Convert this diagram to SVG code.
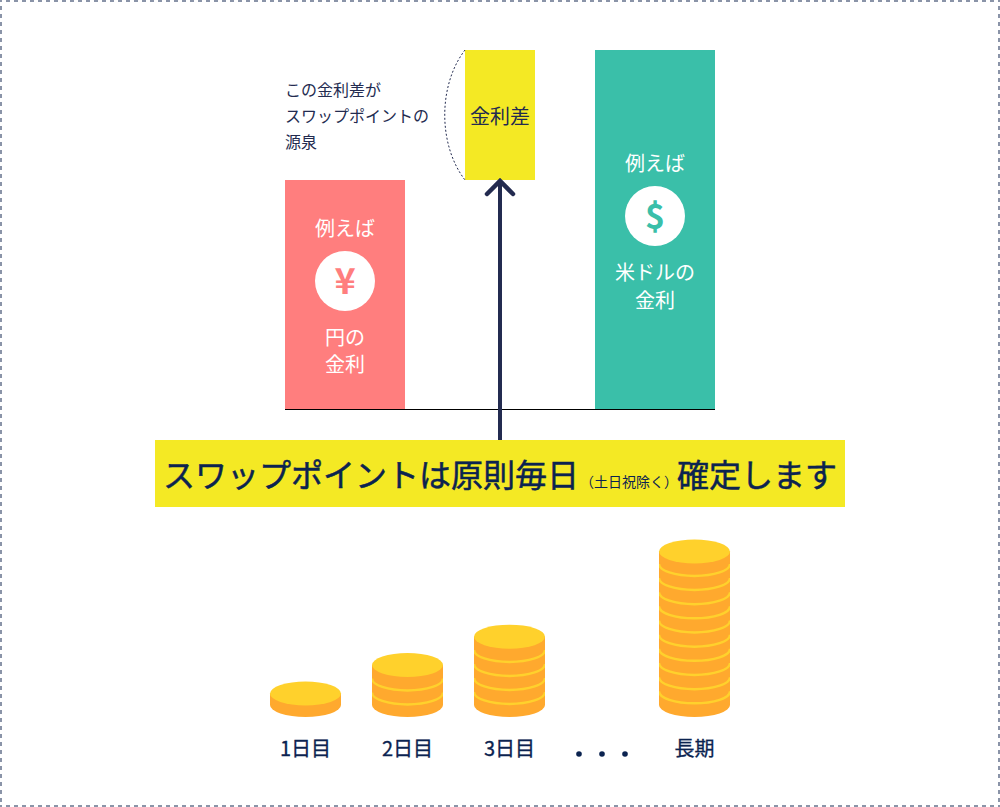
<svg xmlns="http://www.w3.org/2000/svg" xmlns:xlink="http://www.w3.org/1999/xlink" width="1000" height="807" viewBox="0 0 1000 807">
<style>
text{font-family:"Noto Sans CJK JP","Noto Sans",sans-serif}
.w{fill:#fff;font-size:20px;text-anchor:middle}
.n{fill:#232b50;font-size:16px}
.m{fill:#0b2350;stroke:#0b2350;stroke-width:.5px;font-size:32px}
.l{fill:#0b2350;stroke:#0b2350;stroke-width:.3px;font-size:20px;text-anchor:middle}
.side{fill:#ffa92e}
.top{fill:#ffd12c}
.band{fill:none;stroke:#ffd12c;stroke-width:2.400}
.bd{stroke:#8a94a8;stroke-width:2;stroke-dasharray:4 4}
</style>
<defs>
<path id="coin" class="side" d="M270 693.500V705A35.500 12 0 0 0 341 705V693.500Z"/>
<clipPath id="c2"><rect x="372" y="640" width="71" height="80"/></clipPath>
<clipPath id="c3"><rect x="474" y="620" width="71" height="100"/></clipPath>
<clipPath id="c4"><rect x="659" y="535" width="71" height="185"/></clipPath>
</defs>
<rect width="1000" height="807" fill="#fff"/>
<g id="border" class="bd">
<line x1="-2" y1="1" x2="1000" y2="1"/>
<line x1="-2" y1="806" x2="1000" y2="806"/>
<line x1="1" y1="-2" x2="1" y2="807"/>
<line x1="999" y1="-2" x2="999" y2="807"/>
</g>
<g id="yen-bar">
<rect x="285" y="180" width="120" height="229" fill="#ff7e7e"/>
<text class="w" x="345" y="236">例えば</text>
<circle cx="345" cy="281" r="30" fill="#fff"/>
<text x="345" y="294" font-size="36" font-weight="700" fill="#ff7e7e" text-anchor="middle">¥</text>
<text class="w" x="345" y="345">円の</text>
<text class="w" x="345" y="372">金利</text>
</g>
<g id="diff-bar">
<rect x="465" y="50" width="70" height="130" fill="#f4e924"/>
<text x="500" y="124" font-size="20" fill="#232b50" text-anchor="middle">金利差</text>
</g>
<g id="usd-bar">
<rect x="595" y="50" width="120" height="359" fill="#3abfa9"/>
<text class="w" x="655" y="171">例えば</text>
<circle cx="655" cy="216" r="30" fill="#fff"/>
<text x="655" y="229" font-size="34" font-weight="700" fill="#3abfa9" text-anchor="middle">$</text>
<text class="w" x="655" y="280">米ドルの</text>
<text class="w" x="655" y="308">金利</text>
</g>
<g id="note">
<text class="n" x="285" y="95.500">この金利差が</text>
<text class="n" x="285" y="122">スワップポイントの</text>
<text class="n" x="285" y="148">源泉</text>
</g>
<g id="connectors" fill="none">
<line x1="285" y1="409.500" x2="715" y2="409.500" stroke="#000" stroke-width="1"/>
<path d="M465 50C438 85 438 145 465 180" stroke="#232b50" stroke-width="1" stroke-dasharray="2 2"/>
<path d="M500 440V182" stroke="#232b50" stroke-width="4"/>
<path d="M487 194L500 181L513 194" stroke="#232b50" stroke-width="4.500" stroke-linecap="round"/>
</g>
<g id="banner">
<rect x="155" y="440" width="690" height="67" fill="#f4e924"/>
<text class="m" x="163" y="487">スワップポイントは原則毎日</text>
<text x="580" y="487" font-size="14" fill="#0b2350">（土日祝除く）</text>
<text class="m" x="677" y="487">確定します</text>
</g>
<g id="stack-1">
<use xlink:href="#coin" href="#coin"/>
<ellipse class="top" cx="305.500" cy="693.500" rx="35.500" ry="12"/>
</g>
<g id="stack-2">
<path class="side" d="M372 665V705A35.500 12 0 0 0 443 705V665Z"/>
<path class="band" clip-path="url(#c2)" d="M372 678.500A35.500 12 0 0 0 443 678.500M372 692.500A35.500 12 0 0 0 443 692.500"/>
<ellipse class="top" cx="407.500" cy="665" rx="35.500" ry="12"/>
</g>
<g id="stack-3">
<path class="side" d="M474 636.700V705A35.500 12 0 0 0 545 705V636.700Z"/>
<path class="band" clip-path="url(#c3)" d="M474 650A35.500 12 0 0 0 545 650M474 664A35.500 12 0 0 0 545 664M474 678A35.500 12 0 0 0 545 678M474 692A35.500 12 0 0 0 545 692"/>
<ellipse class="top" cx="509.500" cy="636.700" rx="35.500" ry="12"/>
</g>
<g id="stack-long">
<path class="side" d="M659 551.500V705A35.500 12 0 0 0 730 705V551.500Z"/>
<path class="band" clip-path="url(#c4)" d="M659 564A35.500 12 0 0 0 730 564M659 578A35.500 12 0 0 0 730 578M659 592.200A35.500 12 0 0 0 730 592.200M659 606.300A35.500 12 0 0 0 730 606.300M659 620.500A35.500 12 0 0 0 730 620.500M659 634.700A35.500 12 0 0 0 730 634.700M659 648.800A35.500 12 0 0 0 730 648.800M659 663A35.500 12 0 0 0 730 663M659 677.200A35.500 12 0 0 0 730 677.200M659 691.300A35.500 12 0 0 0 730 691.300"/>
<ellipse class="top" cx="694.500" cy="551.500" rx="35.500" ry="12"/>
</g>
<g id="labels">
<text class="l" x="305.500" y="756">1日目</text>
<text class="l" x="407.500" y="756">2日目</text>
<text class="l" x="509.500" y="756">3日目</text>
<text class="l" x="694.500" y="756">長期</text>
<circle cx="579" cy="754" r="2.800" fill="#0b2350"/>
<circle cx="602" cy="754" r="2.800" fill="#0b2350"/>
<circle cx="625" cy="754" r="2.800" fill="#0b2350"/>
</g>
</svg>
